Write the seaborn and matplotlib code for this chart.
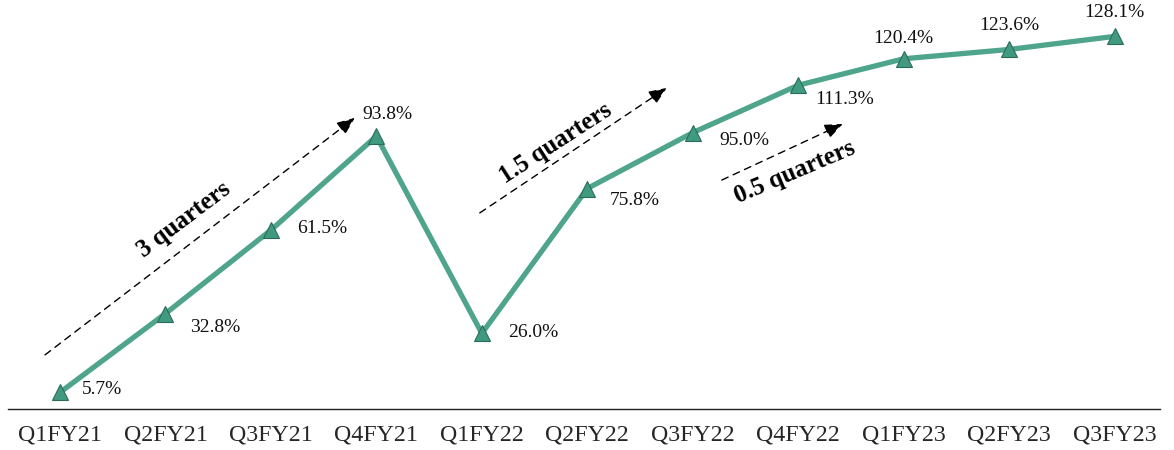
import matplotlib
matplotlib.use("Agg")
import matplotlib.pyplot as plt
import seaborn as sns
import pandas as pd

quarters = ["Q1FY21", "Q2FY21", "Q3FY21", "Q4FY21", "Q1FY22", "Q2FY22",
            "Q3FY22", "Q4FY22", "Q1FY23", "Q2FY23", "Q3FY23"]
values = [5.7, 32.8, 61.5, 93.8, 26.0, 75.8, 95.0, 111.3, 120.4, 123.6, 128.1]
value_labels = ["5.7%", "32.8%", "61.5%", "93.8%", "26.0%", "75.8%",
                "95.0%", "111.3%", "120.4%", "123.6%", "128.1%"]

# label offsets in pixels (dx, dy up), horizontal alignment
label_offsets = [(22, 3, "left"), (25, -14, "left"), (26, 2, "left"),
                 (-14, 22, "left"), (26, 1, "left"), (22, -12, "left"),
                 (27, -8, "left"), (17, -14, "left"), (0, 20, "center"),
                 (0, 24, "center"), (0, 24, "center")]

arrow_texts = ["3 quarters", "1.5 quarters", "0.5 quarters"]
arrow_starts = [(-0.142, 18.6), (3.98, 67.4), (6.275, 78.7)]
arrow_ends = [(2.796, 100.1), (5.754, 110.4), (7.422, 98.0)]
arrow_text_pos = [(1.175, 65.0), (4.70, 91.5), (6.967, 81.5)]
arrow_text_angles = [37, 33, 23]

sns.set_style("white")
plt.rcParams["font.family"] = ["Liberation Serif", "DejaVu Serif"]

df = pd.DataFrame({"x": range(len(quarters)), "v": values})

fig = plt.figure(figsize=(11.74, 4.5), dpi=100)
ax = fig.add_axes([8 / 1174, 41 / 450, 1152 / 1174, 409 / 450])

sns.lineplot(data=df, x="x", y="v", ax=ax, color="#4ea58b", linewidth=3.8,
             marker="^", markersize=12, markerfacecolor="#3f9a80",
             markeredgecolor="#2b6b5a", markeredgewidth=0.8)

ax.set_xlim(-0.493, 10.43)
ax.set_ylim(0, 140.6)
ax.set_xticks(range(len(quarters)))
ax.set_xticklabels(quarters, fontsize=17.2)
ax.tick_params(axis="x", length=0, pad=11)
ax.set_yticks([])
ax.set_xlabel("")
ax.set_ylabel("")
for s in ["top", "left", "right"]:
    ax.spines[s].set_visible(False)
ax.spines["bottom"].set_color("#222222")
ax.spines["bottom"].set_linewidth(1.0)

for i, (lab, (dx, dy, ha)) in enumerate(zip(value_labels, label_offsets)):
    ax.annotate(lab, (i, values[i]), xytext=(dx * 0.72, dy * 0.72),
                textcoords="offset points", ha=ha, va="center",
                fontsize=14, color="#111111")

for txt, st, en, tp, ang in zip(arrow_texts, arrow_starts, arrow_ends,
                                arrow_text_pos, arrow_text_angles):
    ax.annotate("", xy=en, xytext=st,
                arrowprops=dict(arrowstyle="-|>,head_length=1.1,head_width=0.45",
                                linestyle=(0, (5, 4)), color="black", lw=1.0,
                                shrinkA=0, shrinkB=0))
    ax.text(tp[0], tp[1], txt, rotation=ang, rotation_mode="anchor",
            ha="center", va="center", fontsize=18, fontweight="bold",
            color="black")

fig.savefig("out.png", dpi=100)
